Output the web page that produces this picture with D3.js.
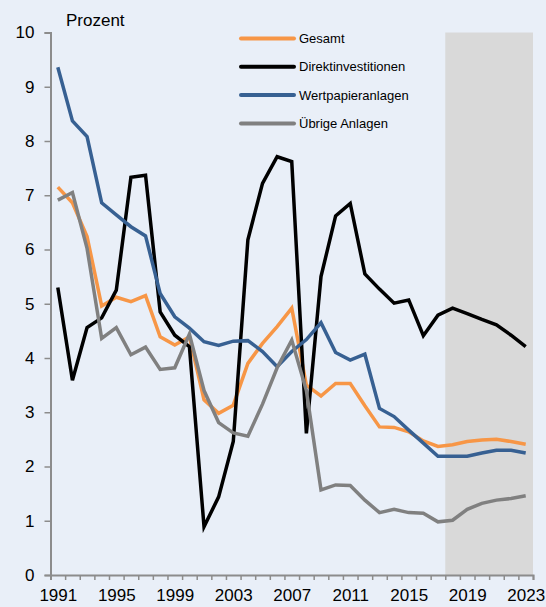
<!DOCTYPE html>
<html>
<head>
<meta charset="utf-8">
<script src="https://cdn.jsdelivr.net/npm/d3@7"></script>
<style>
  html, body { margin: 0; padding: 0; background: #e9eff8; }
  svg { display: block; font-family: "Liberation Sans", Arial, sans-serif; }
</style>
</head>
<body>
<svg id="chart" width="546" height="607"></svg>
<script>
// years 1991..2023, forecast from 2018
const years = d3.range(1991, 2024);
const yearLabels = [1991, 1995, 1999, 2003, 2007, 2011, 2015, 2019, 2023];
const forecastFrom = 2018;

const gesamt = [7.15, 6.86, 6.24, 4.96, 5.12, 5.04, 5.15, 4.39, 4.24, 4.39,
  3.23, 2.98, 3.13, 3.90, 4.27, 4.58, 4.92, 3.50, 3.30, 3.53, 3.53, 3.12,
  2.73, 2.72, 2.64, 2.47, 2.37, 2.40, 2.46, 2.49, 2.50, 2.46, 2.41];
const direkt = [5.30, 3.59, 4.56, 4.74, 5.25, 7.33, 7.37, 4.85, 4.42, 4.21,
  0.89, 1.44, 2.46, 6.18, 7.22, 7.71, 7.62, 2.61, 5.50, 6.62, 6.85, 5.55,
  5.27, 5.01, 5.07, 4.41, 4.79, 4.92, 4.82, 4.71, 4.61, 4.42, 4.21];
const wertpapier = [9.36, 8.37, 8.08, 6.86, 6.64, 6.42, 6.25, 5.19, 4.76, 4.55,
  4.30, 4.23, 4.31, 4.32, 4.12, 3.84, 4.12, 4.34, 4.65, 4.10, 3.96, 4.07,
  3.07, 2.92, 2.67, 2.43, 2.19, 2.19, 2.19, 2.25, 2.30, 2.30, 2.25];
const uebrige = [6.91, 7.05, 6.02, 4.36, 4.56, 4.06, 4.20, 3.79, 3.82, 4.44,
  3.40, 2.81, 2.62, 2.56, 3.15, 3.82, 4.33, 3.40, 1.57, 1.66, 1.65, 1.38,
  1.15, 1.21, 1.15, 1.14, 0.98, 1.01, 1.21, 1.32, 1.38, 1.41, 1.46];

const seriesNames = ["Gesamt", "Direktinvestitionen", "Wertpapieranlagen", "Übrige Anlagen"];
const seriesColors = ["#f79646", "#000000", "#376092", "#808080"];
const seriesValues = [gesamt, direkt, wertpapier, uebrige];

const svg = d3.select("#chart");
const plotLeft = 50.5, plotRight = 533, plotTop = 32.5, plotBottom = 575;
const axisColor = "#8c8c8c";

const x = d3.scaleLinear().domain([1990.5, 2023.5]).range([plotLeft, plotRight]);
const y = d3.scaleLinear().domain([0, 10]).range([plotBottom, plotTop]);

// forecast shading
svg.append("rect")
  .attr("x", x(forecastFrom - 0.5))
  .attr("y", y(10))
  .attr("width", x(2023.5) - x(forecastFrom - 0.5))
  .attr("height", y(0) - y(10))
  .attr("fill", "#d9d9d9");

// y axis
const yAxis = svg.append("g")
  .attr("transform", `translate(${plotLeft},0)`)
  .call(d3.axisLeft(y).tickValues(d3.range(0, 11)).tickSize(6).tickPadding(10).tickFormat(d3.format("d")));
yAxis.select(".domain").attr("stroke", axisColor).attr("stroke-width", 2);
yAxis.selectAll(".tick line").attr("stroke", axisColor).attr("stroke-width", 1.5);
yAxis.selectAll(".tick text").attr("font-size", 17).attr("fill", "#000")
  .attr("font-family", "Liberation Sans, Arial, sans-serif");

// x axis: tick marks at category borders
const xTicks = svg.append("g")
  .attr("transform", `translate(0,${plotBottom})`)
  .call(d3.axisBottom(x).tickValues(d3.range(1990.5, 2024.5, 1)).tickSize(5).tickFormat(""));
xTicks.select(".domain").attr("stroke", axisColor).attr("stroke-width", 2);
xTicks.selectAll(".tick line").attr("stroke", axisColor).attr("stroke-width", 1.5);

// x labels at category centres
const xLabels = svg.append("g")
  .attr("transform", `translate(0,${plotBottom})`)
  .call(d3.axisBottom(x).tickValues(yearLabels).tickSize(0).tickPadding(14).tickFormat(d3.format("d")));
xLabels.select(".domain").remove();
xLabels.selectAll(".tick text").attr("font-size", 17).attr("fill", "#000")
  .attr("font-family", "Liberation Sans, Arial, sans-serif");

// lines
const line = d3.line()
  .x((d, i) => x(years[i]))
  .y(d => y(d));

seriesValues.forEach((vals, k) => {
  svg.append("path")
    .datum(vals)
    .attr("d", line)
    .attr("fill", "none")
    .attr("stroke", seriesColors[k])
    .attr("stroke-width", 3.5)
    .attr("stroke-linejoin", "miter");
});

// unit title
svg.append("text")
  .attr("x", 66).attr("y", 26)
  .attr("font-size", 17)
  .text("Prozent");

// legend
const legend = svg.append("g");
seriesNames.forEach((name, k) => {
  const ly = 38.5 + k * 28.3;
  legend.append("line")
    .attr("x1", 241).attr("x2", 294)
    .attr("y1", ly).attr("y2", ly)
    .attr("stroke", seriesColors[k])
    .attr("stroke-width", 4)
    .attr("stroke-linecap", "round");
  legend.append("text")
    .attr("x", 299).attr("y", ly)
    .attr("dy", "0.35em")
    .attr("font-size", 13)
    .text(name);
});
</script>
</body>
</html>
